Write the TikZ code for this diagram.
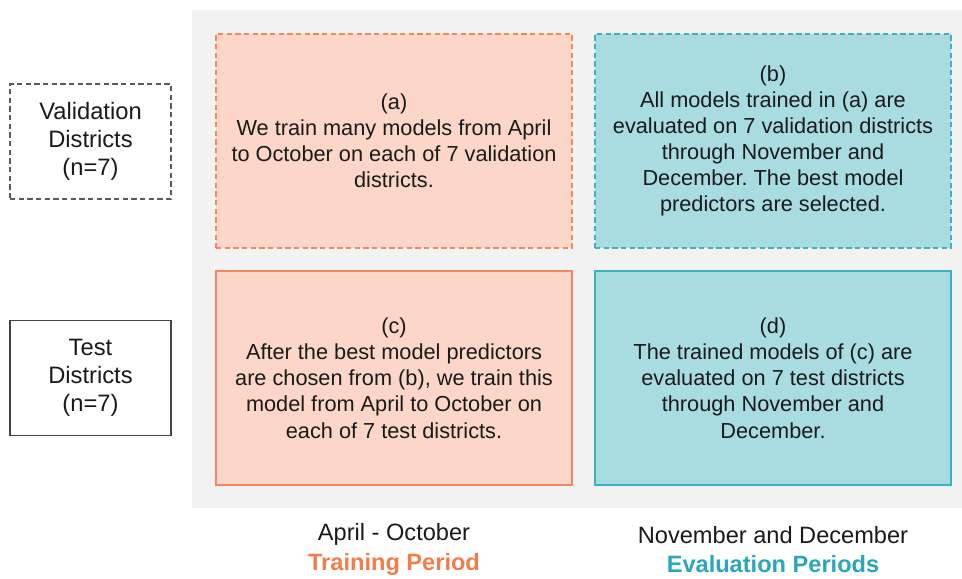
\documentclass[tikz,border=0pt]{standalone}
\usepackage{fontspec}
\setmainfont{Liberation Sans}
\frenchspacing
\definecolor{bgray}{HTML}{F2F2F2}
\definecolor{salfill}{HTML}{FCD6C9}
\definecolor{salline}{HTML}{F4875F}
\definecolor{tealfill}{HTML}{A8DCE1}
\definecolor{tealline}{HTML}{3DB0C1}
\definecolor{trainc}{HTML}{F47C48}
\definecolor{evalc}{HTML}{2BA7BB}
\definecolor{darkline}{HTML}{444444}
\definecolor{dashgray}{HTML}{5A5A5A}
\definecolor{txt}{HTML}{1A1A1A}
\tikzset{
  cell/.style={draw, line width=0.9pt, minimum width=356*0.75pt, minimum height=214*0.75pt,
    inner sep=0pt, align=center, text=txt,
    font=\fontsize{16.3pt}{19.6pt}\selectfont},
  train/.style={cell, fill=salfill, draw=salline},
  evalb/.style={cell, fill=tealfill, draw=tealline},
  dashedbox/.style={dash pattern=on 4pt off 2.5pt},
  district/.style={draw=darkline, line width=0.9pt, fill=white, minimum width=161*0.75pt,
    minimum height=115*0.75pt, inner sep=0pt, align=center, text=txt,
    font=\fontsize{17.8pt}{21pt}\selectfont},
  bottomlabel/.style={align=center, inner sep=0pt, font=\fontsize{17.7pt}{21.9pt}\selectfont}
}
\begin{document}
\begin{tikzpicture}[x=0.75pt, y=-0.75pt]
\useasboundingbox (0,0) rectangle (962,578);
\fill[white] (0,0) rectangle (962,578);
\node[fill=bgray, draw=none, minimum width=770*0.75pt, minimum height=498*0.75pt, inner sep=0pt] (bg) at (577,259) {};
\node[train, dashedbox] (a) at (394,141) {(a)\\We train many models from April\\to October on each of 7 validation\\districts.};
\node[evalb, dashedbox] (b) at (773,141) {(b)\\All models trained in (a) are\\evaluated on 7 validation districts\\through November and\\December. The best model\\predictors are selected.};
\node[train] (c) at (394,378) {(c)\\After the best model predictors\\are chosen from (b), we train this\\model from April to October on\\each of 7 test districts.};
\node[evalb] (d) at (773,378) {(d)\\The trained models of (c) are\\evaluated on 7 test districts\\through November and\\December.};
\node[district, dashedbox, draw=dashgray] (val) at (90.5,141.5) {Validation\\Districts\\(n=7)};
\node[district] (test) at (90.5,378) {Test\\Districts\\(n=7)};
\node[bottomlabel] (trainlbl) at (394,549.5) {\textcolor{txt}{April - October}\\\textcolor{trainc}{\bfseries Training Period}};
\node[bottomlabel] (evallbl) at (773,549.5) {\textcolor{txt}{November and December}\\\textcolor{evalc}{\bfseries Evaluation Periods}};
\end{tikzpicture}
\end{document}
